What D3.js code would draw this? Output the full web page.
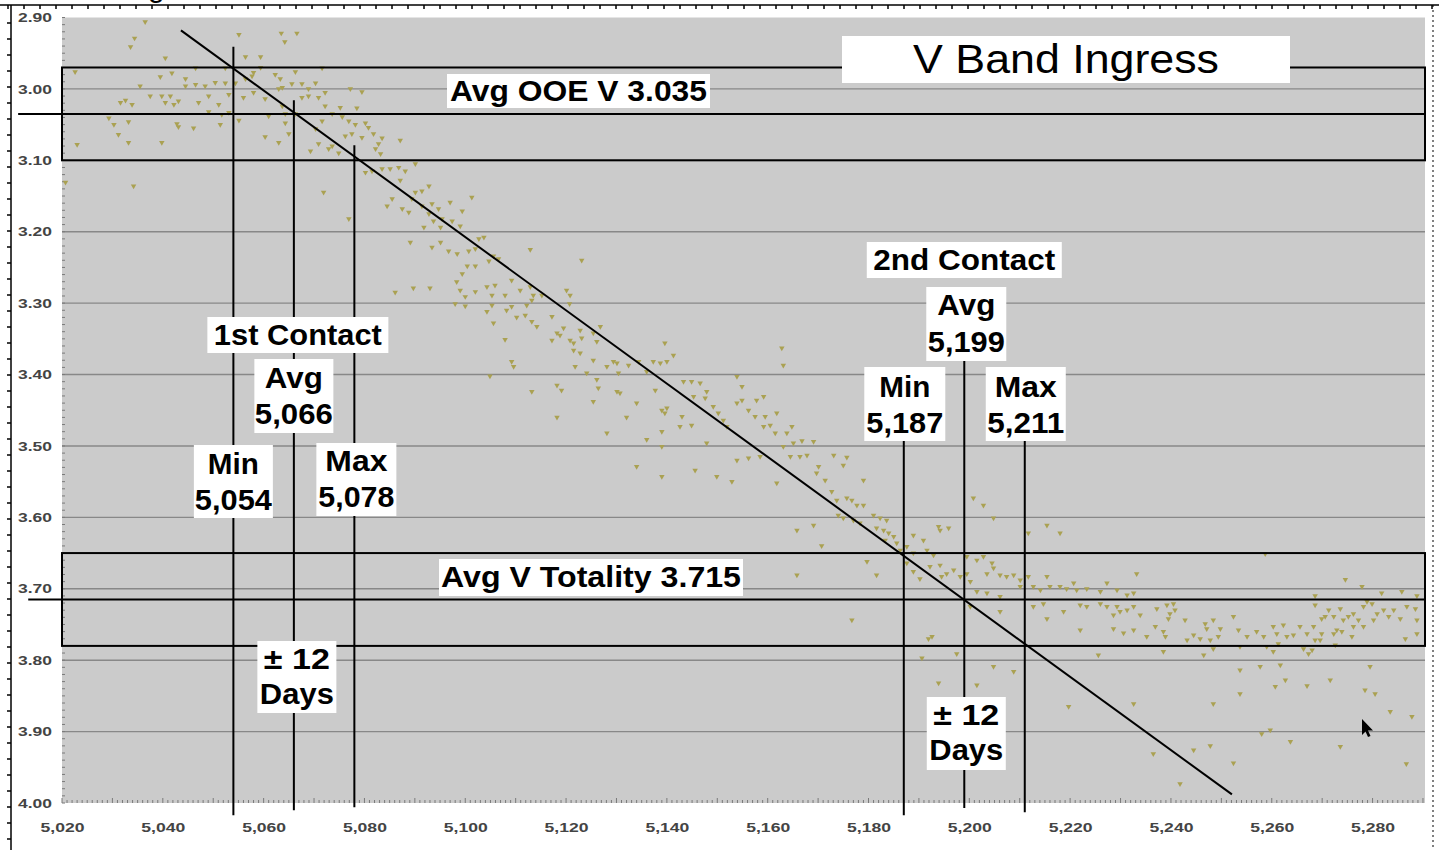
<!DOCTYPE html>
<html>
  <head>
    <meta charset="utf-8">
    <title>V Band Ingress</title>
    <script src="https://cdn.jsdelivr.net/npm/d3@7"></script>
    <style>
      body { margin: 0; background: #fff; }
      svg { display: block; }
      .lbl { font-family: "Liberation Sans", Arial, sans-serif; font-weight: bold; }
    </style>
  </head>
  <body>
    <div id="vis"></div>
    <script>
        const width = 1439;
        const height = 850;

        // axis ticks
        const xTicks = [5020, 5040, 5060, 5080, 5100, 5120, 5140, 5160, 5180, 5200, 5220, 5240, 5260, 5280];
        const yTicks = [2.90, 3.00, 3.10, 3.20, 3.30, 3.40, 3.50, 3.60, 3.70, 3.80, 3.90, 4.00];

        // averages and contact times
        const avgOOE = 3.035;
        const avgTotality = 3.715;
        const bandHalf = 0.065;
        const contact1 = {min: 5054, avg: 5066, max: 5078};
        const contact2 = {min: 5187, avg: 5199, max: 5211};
        const trendLine = [[5043.6, 2.918], [5252.1, 3.988]];

        const obsOutOfEclipse = [
          [5036.5,2.906],[5034.4,2.929],[5033.6,2.941],[5040.5,2.957],[5055.1,2.924],[5063.5,2.922],[5066.6,2.922],[5064.2,2.934],[5056.4,2.955],[5059.4,2.955],
          [5022.6,2.976],[5046.5,2.971],[5052.4,2.971],[5039.5,2.983],[5044.5,2.986],[5041.8,2.978],[5058.0,2.977],[5059.4,2.970],[5066.3,2.976],[5071.6,2.971],
          [5035.5,2.996],[5044.5,2.996],[5046.5,2.994],[5048.4,2.996],[5050.4,2.991],[5052.4,2.992],[5054.4,2.992],[5056.4,2.986],[5057.7,2.982],[5062.3,2.980],
          [5063.3,2.986],[5063.7,2.998],[5065.6,2.993],[5067.6,2.993],[5070.3,2.992],[5063.0,3.000],[5068.9,3.000],[5072.2,3.005],[5077.2,3.000],[5079.5,3.004],
          [5037.5,3.010],[5039.8,3.010],[5041.5,3.010],[5031.6,3.019],[5032.6,3.016],[5033.9,3.022],[5040.5,3.019],[5042.2,3.022],[5043.1,3.017],[5047.1,3.019],
          [5049.1,3.010],[5051.1,3.022],[5053.1,3.008],[5056.0,3.012],[5058.0,3.005],[5060.3,3.014],[5063.7,3.024],[5067.6,3.012],[5068.9,3.010],[5070.9,3.012],
          [5072.2,3.024],[5075.2,3.026],[5078.5,3.027],[5029.3,3.041],[5030.3,3.050],[5033.2,3.046],[5042.8,3.049],[5043.1,3.053],[5046.1,3.055],[5049.1,3.032],
          [5051.4,3.050],[5051.7,3.036],[5053.1,3.033],[5055.1,3.044],[5061.0,3.038],[5064.3,3.035],[5064.3,3.048],[5066.3,3.035],[5071.6,3.045],[5073.6,3.035],
          [5075.6,3.039],[5076.9,3.045],[5078.2,3.050],[5080.2,3.048],[5080.8,3.054],[5077.5,3.063],[5076.2,3.066],[5070.3,3.056],[5031.2,3.064],[5033.2,3.075],
          [5039.8,3.075],[5023.0,3.078],[5060.3,3.067],[5063.0,3.075],[5065.0,3.063],[5069.3,3.087],[5070.9,3.077],[5072.9,3.084],[5074.9,3.090],[5073.6,3.080],
          [5079.5,3.068],[5081.8,3.063],[5082.8,3.077],[5082.2,3.084],[5083.5,3.069],[5087.1,3.072],[5083.2,3.091],[5080.2,3.117],[5081.5,3.115],[5083.5,3.112],
          [5085.1,3.112],[5086.8,3.110],[5088.1,3.115],[5090.1,3.105],[5087.1,3.128],[5092.8,3.136],[5091.4,3.143],[5090.1,3.145],[5089.4,3.154],[5091.4,3.164],
          [5093.4,3.161],[5094.7,3.168],[5097.0,3.159],[5099.4,3.171],[5101.3,3.152],[5092.8,3.175],[5093.7,3.185],[5095.4,3.182],[5097.4,3.185],[5099.0,3.192],
          [5095.1,3.194],[5091.8,3.194],[5088.8,3.173],[5085.5,3.154],[5084.5,3.164],[5087.5,3.168],[5089.1,3.215],[5093.4,3.222],[5095.1,3.215],[5096.7,3.227],
          [5098.4,3.231],[5100.7,3.227],[5102.7,3.210],[5103.7,3.208],[5102.0,3.224],[5100.4,3.248],[5102.0,3.248],[5104.7,3.241],[5105.6,3.234],[5106.6,3.238],
          [5099.4,3.259],[5020.7,3.131],[5034.2,3.136],[5071.9,3.145],[5076.9,3.182]
        ];
        const obsIngressUpper = [
          [5112.9,3.225],[5123.1,3.240],[5109.2,3.268],[5110.9,3.282],[5112.9,3.277],[5113.5,3.289],[5113.2,3.296],[5112.2,3.303],[5115.2,3.289],[5120.1,3.282],
          [5120.8,3.289],[5120.7,3.301],[5107.9,3.289],[5109.2,3.305],[5108.2,3.310],[5110.2,3.320],[5111.9,3.317],[5113.2,3.326],[5114.2,3.333],[5117.2,3.319],
          [5119.5,3.335],[5118.2,3.342],[5118.8,3.345],[5117.2,3.352],[5120.8,3.352],[5121.5,3.356],[5122.8,3.338],[5123.1,3.349],[5125.4,3.342],[5126.1,3.354],
          [5126.8,3.333],[5107.9,3.351],[5109.2,3.382],[5109.6,3.389],[5121.5,3.366],[5122.8,3.370],[5121.8,3.389],[5125.4,3.380],[5124.1,3.398],[5126.1,3.407],
          [5128.1,3.389],[5129.4,3.382],[5130.4,3.398],[5130.1,3.384],[5132.4,3.387],[5134.4,3.382],[5136.0,3.396],[5137.3,3.382],[5138.7,3.384],[5140.0,3.382],
          [5139.6,3.356],[5141.3,3.373],[5104.9,3.402],[5113.2,3.424],[5118.2,3.415],[5119.1,3.422],[5126.4,3.419],[5130.1,3.424],[5130.7,3.426],[5125.4,3.438],
          [5134.0,3.440],[5118.2,3.460],[5128.1,3.482],[5132.0,3.460],[5136.0,3.491],[5139.0,3.480],[5139.0,3.501],[5134.0,3.529],[5139.0,3.543],[5145.6,3.534],
          [5149.9,3.543],[5137.7,3.422],[5139.0,3.450],[5139.6,3.454],[5140.0,3.447],[5143.0,3.459],[5144.9,3.471],[5142.6,3.473],[5143.3,3.410],[5144.9,3.410],
          [5146.6,3.412],[5147.9,3.424],[5145.3,3.431],[5147.6,3.433],[5149.2,3.445],[5150.2,3.454],[5151.2,3.464],[5151.9,3.473],[5153.9,3.440],[5154.9,3.436],
          [5156.2,3.450],[5157.5,3.459],[5157.8,3.436],[5159.2,3.431],[5159.5,3.459],[5160.5,3.471],[5161.8,3.454],[5163.8,3.482],[5164.8,3.473],[5165.1,3.496],
          [5163.1,3.501],[5164.5,3.515],[5161.5,3.482],[5159.2,3.473],[5153.9,3.403],[5154.9,3.417],[5162.8,3.363],[5163.1,3.387],[5147.9,3.496],[5153.9,3.520],
          [5156.2,3.517],[5158.5,3.515],[5086.1,3.285],[5089.7,3.279],[5093.0,3.279],[5098.3,3.270],[5099.0,3.282],[5100.0,3.291],[5102.0,3.284],[5104.3,3.277],
          [5105.3,3.289],[5105.9,3.275],[5098.0,3.301],[5100.0,3.304],[5104.3,3.312],[5105.3,3.303],[5105.6,3.328]
        ];
        const obsIngressLower = [
          [5166.8,3.493],[5169.1,3.494],[5166.4,3.515],[5167.8,3.513],[5169.7,3.538],[5170.1,3.529],[5171.4,3.548],[5173.1,3.513],[5175.7,3.516],[5175.0,3.527],
          [5179.0,3.548],[5152.9,3.550],[5161.8,3.552],[5165.8,3.618],[5169.1,3.611],[5170.7,3.640],[5165.8,3.681],[5176.7,3.744],[5172.7,3.564],[5173.7,3.576],
          [5175.7,3.573],[5176.7,3.576],[5177.7,3.583],[5179.0,3.583],[5174.0,3.597],[5175.0,3.601],[5177.0,3.604],[5178.3,3.608],[5181.0,3.597],[5182.3,3.601],
          [5183.6,3.604],[5181.6,3.615],[5183.0,3.618],[5184.0,3.622],[5183.3,3.632],[5185.0,3.627],[5185.6,3.636],[5186.3,3.646],[5187.6,3.641],[5188.9,3.625],
          [5190.9,3.632],[5191.6,3.646],[5192.9,3.653],[5194.2,3.618],[5195.9,3.615],[5188.9,3.650],[5179.7,3.662],[5181.6,3.681],[5187.6,3.664],[5188.9,3.676],
          [5190.2,3.686],[5192.2,3.669],[5194.2,3.667],[5194.5,3.683],[5195.5,3.679],[5196.9,3.674],[5198.2,3.683],[5199.5,3.679],[5200.2,3.690],[5199.5,3.655],
          [5201.5,3.660],[5202.8,3.655],[5204.5,3.664],[5203.5,3.679],[5204.8,3.671],[5206.1,3.681],[5207.4,3.683],[5208.8,3.681],[5210.1,3.688],[5211.7,3.683],
          [5212.7,3.697],[5214.1,3.702],[5215.4,3.683],[5216.0,3.697],[5218.0,3.697],[5219.3,3.700],[5220.7,3.692],[5221.3,3.702],[5223.3,3.700],[5226.0,3.704],
          [5227.3,3.692],[5229.3,3.702],[5231.3,3.709],[5232.6,3.706],[5233.2,3.679],[5201.5,3.704],[5203.5,3.706],[5206.1,3.711],[5210.1,3.697],[5200.2,3.725],
          [5206.1,3.732],[5212.7,3.725],[5215.4,3.742],[5218.7,3.732],[5222.0,3.723],[5223.3,3.725],[5226.0,3.721],[5227.3,3.725],[5229.3,3.725],[5228.6,3.737],
          [5229.9,3.732],[5231.3,3.730],[5232.6,3.725],[5233.9,3.737],[5228.6,3.756],[5230.6,3.762],[5232.6,3.758],[5222.0,3.758],[5214.7,3.721],[5200.8,3.573],
          [5202.8,3.583],[5204.8,3.601],[5211.7,3.622],[5215.4,3.611],[5218.0,3.622],[5193.9,3.613],[5191.9,3.770],[5192.6,3.767],[5190.6,3.797],[5197.5,3.791],
          [5193.9,3.832],[5201.5,3.835],[5204.8,3.809],[5208.8,3.816],[5225.6,3.793],[5219.7,3.865],[5232.6,3.861]
        ];
        const obsTotality = [
          [5258.7,3.651],[5274.6,3.687],[5277.9,3.697],[5268.6,3.710],[5281.8,3.706],[5285.8,3.704],[5288.8,3.710],[5237.2,3.728],[5239.2,3.723],[5240.5,3.721],
          [5239.8,3.735],[5239.5,3.742],[5240.8,3.730],[5242.8,3.744],[5236.9,3.753],[5238.5,3.760],[5238.9,3.767],[5235.2,3.767],[5238.5,3.788],[5243.2,3.772],
          [5244.5,3.765],[5245.8,3.770],[5246.8,3.749],[5247.1,3.756],[5248.4,3.744],[5249.8,3.756],[5249.4,3.767],[5247.8,3.772],[5246.5,3.793],[5248.4,3.784],
          [5252.4,3.739],[5253.4,3.758],[5255.1,3.767],[5253.7,3.781],[5257.0,3.760],[5258.4,3.767],[5259.0,3.781],[5260.3,3.753],[5261.0,3.763],[5262.3,3.751],
          [5263.0,3.767],[5264.3,3.765],[5265.6,3.753],[5267.0,3.763],[5268.3,3.753],[5268.6,3.772],[5266.3,3.784],[5267.3,3.791],[5268.0,3.786],[5269.6,3.772],
          [5269.9,3.763],[5272.3,3.763],[5272.9,3.758],[5274.2,3.744],[5272.3,3.739],[5271.3,3.730],[5269.9,3.742],[5268.6,3.723],[5270.6,3.739],[5273.6,3.728],
          [5275.2,3.739],[5276.2,3.735],[5277.2,3.744],[5278.2,3.725],[5278.9,3.718],[5279.9,3.721],[5280.9,3.735],[5282.2,3.730],[5283.2,3.739],[5284.2,3.730],
          [5285.5,3.742],[5286.8,3.725],[5288.5,3.728],[5288.8,3.744],[5288.8,3.763],[5286.5,3.770],[5278.2,3.753],[5275.9,3.767],[5272.6,3.779],[5276.2,3.753],
          [5280.2,3.744],[5273.9,3.760],[5260.3,3.788],[5261.3,3.777],[5257.7,3.809],[5261.7,3.807],[5262.7,3.828],[5260.7,3.837],[5267.0,3.836],[5271.6,3.828],
          [5279.5,3.809],[5278.5,3.842],[5280.5,3.847],[5253.7,3.814],[5253.7,3.847],[5248.4,3.861],[5252.4,3.944],[5247.8,3.920],[5244.5,3.926],[5236.5,3.931],
          [5241.8,3.973],[5263.7,3.914],[5273.6,3.921],[5283.5,3.872],[5287.8,3.879],[5286.7,3.945],[5259.7,3.898],[5258.0,3.903]
        ];

        const observations = obsOutOfEclipse.concat(obsIngressUpper, obsIngressLower, obsTotality);

        const x = d3.scaleLinear().domain([5020, 5290.4]).range([62, 1425]);
        const y = d3.scaleLinear().domain([2.90, 4.00]).range([17.5, 803]);

        const vis = d3.select('#vis').append("svg")
          .attr("width", width).attr("height", height)
          .style("background", "#fff");

        // plot area
        vis.append("rect")
          .attr("x", x(5020)).attr("y", y(2.90))
          .attr("width", x(5290.4) - x(5020)).attr("height", y(4.00) - y(2.90))
          .attr("fill", "#cbcbcb");

        // gridlines
        vis.append("g").selectAll("line")
          .data(yTicks.slice(1, -1))
          .enter().append("line")
          .attr("x1", x(5020)).attr("x2", x(5290.4))
          .attr("y1", d => y(d)).attr("y2", d => y(d))
          .attr("stroke", "#888").attr("stroke-width", 1.4);

        // minor ticks left and bottom
        const minorY = d3.range(0, 111).map(i => 2.90 + i * 0.01);
        vis.append("g").selectAll("line")
          .data(minorY).enter().append("line")
          .attr("x1", x(5020)).attr("x2", x(5020) + 3)
          .attr("y1", d => y(d)).attr("y2", d => y(d))
          .attr("stroke", "#7a7a7a").attr("stroke-width", 1);
        const minorX = d3.range(5020, 5291, 1);
        vis.append("g").selectAll("line")
          .data(minorX).enter().append("line")
          .attr("x1", d => x(d)).attr("x2", d => x(d))
          .attr("y1", y(4.00)).attr("y2", d => y(4.00) - (d % 10 === 0 ? 5 : 3))
          .attr("stroke", "#7a7a7a").attr("stroke-width", 1);

        // observations
        const marker = d3.symbol().type(d3.symbolTriangle).size(13);
        vis.append("g").selectAll("path")
          .data(observations).enter().append("path")
          .attr("d", marker)
          .attr("transform", d => "translate(" + x(d[0]) + "," + y(d[1]) + ") rotate(180)")
          .attr("fill", "#aaa152");

        // avg bands
        const bands = [avgOOE, avgTotality];
        vis.append("g").selectAll("rect")
          .data(bands).enter().append("rect")
          .attr("x", x(5020)).attr("width", x(5290.4) - x(5020))
          .attr("y", d => y(d - bandHalf)).attr("height", d => y(d + bandHalf) - y(d - bandHalf))
          .attr("fill", "none").attr("stroke", "#000").attr("stroke-width", 2);

        vis.append("line")
          .attr("x1", x(5011.3)).attr("x2", x(5290.4))
          .attr("y1", y(avgOOE)).attr("y2", y(avgOOE))
          .attr("stroke", "#000").attr("stroke-width", 2);
        vis.append("line")
          .attr("x1", x(5013.3)).attr("x2", x(5290.4))
          .attr("y1", y(avgTotality)).attr("y2", y(avgTotality))
          .attr("stroke", "#000").attr("stroke-width", 2);

        // trend line
        vis.append("line")
          .attr("x1", x(trendLine[0][0])).attr("y1", y(trendLine[0][1]))
          .attr("x2", x(trendLine[1][0])).attr("y2", y(trendLine[1][1]))
          .attr("stroke", "#000").attr("stroke-width", 2);

        // contact verticals [day, top mag, bottom mag]
        const verticals = [
          [contact1.min, 2.941, 4.017], [contact1.avg, 3.016, 4.010], [contact1.max, 3.079, 4.006],
          [contact2.min, 3.490, 4.017], [contact2.avg, 3.340, 4.007], [contact2.max, 3.490, 4.013]
        ];
        vis.append("g").selectAll("line")
          .data(verticals).enter().append("line")
          .attr("x1", d => x(d[0])).attr("x2", d => x(d[0]))
          .attr("y1", d => y(d[1])).attr("y2", d => y(d[2]))
          .attr("stroke", "#000").attr("stroke-width", 2);

        // white labels
        const fmt = d3.format(",");
        const labels = [
          {cx: x(contact1.avg) + 4, top: 317, w: 181, h: 36, lines: [["1st Contact", 345, 168]]},
          {cx: x(contact1.avg), top: 359, w: 79, h: 74, lines: [["Avg", 388, 58], [fmt(contact1.avg), 424, 78]]},
          {cx: x(contact1.min), top: 445, w: 79, h: 73, lines: [["Min", 474, 51], [fmt(contact1.min), 510, 77]]},
          {cx: x(contact1.max) + 2, top: 443, w: 80, h: 73, lines: [["Max", 471, 62], [fmt(contact1.max), 507, 76]]},
          {cx: x(contact1.avg) + 3, top: 641, w: 79, h: 72, lines: [["± 12", 669, 66], ["Days", 704, 74]]},
          {cx: x(contact2.avg), top: 242, w: 195, h: 36, lines: [["2nd Contact", 270, 182]]},
          {cx: x(contact2.avg) + 2, top: 287, w: 80, h: 74, lines: [["Avg", 315, 58], [fmt(contact2.avg), 352, 77]]},
          {cx: x(contact2.min) + 1, top: 367, w: 81, h: 74, lines: [["Min", 397, 51], [fmt(contact2.min), 433, 77]]},
          {cx: x(contact2.max) + 1, top: 367, w: 80, h: 74, lines: [["Max", 397, 62], [fmt(contact2.max), 433, 77]]},
          {cx: x(contact2.avg) + 2, top: 697, w: 79, h: 73, lines: [["± 12", 725, 66], ["Days", 760, 74]]},
          {cx: 578.5, top: 74, w: 263, h: 34, lines: [["Avg OOE V " + avgOOE.toFixed(3), 101, 257]]},
          {cx: 591, top: 559, w: 304, h: 37, lines: [["Avg V Totality " + avgTotality.toFixed(3), 587, 300]]}
        ];

        const lab = vis.append("g").selectAll("g")
          .data(labels).enter().append("g");
        lab.append("rect")
          .attr("x", d => d.cx - d.w / 2).attr("y", d => d.top)
          .attr("width", d => d.w).attr("height", d => d.h)
          .attr("fill", "#fff");
        lab.selectAll("text")
          .data(d => d.lines.map(l => ({cx: d.cx, t: l[0], y: l[1], w: l[2]})))
          .enter().append("text")
          .attr("class", "lbl")
          .attr("x", d => d.cx).attr("y", d => d.y)
          .attr("text-anchor", "middle")
          .attr("font-size", 29)
          .attr("textLength", d => d.w).attr("lengthAdjust", "spacingAndGlyphs")
          .attr("fill", "#000")
          .text(d => d.t);

        // title
        vis.append("rect")
          .attr("x", 842).attr("y", 36).attr("width", 448).attr("height", 47)
          .attr("fill", "#fff");
        vis.append("text")
          .attr("x", 1066).attr("y", 73)
          .attr("text-anchor", "middle")
          .attr("font-family", "'Liberation Sans', Arial, sans-serif")
          .attr("font-size", 41)
          .attr("textLength", 306).attr("lengthAdjust", "spacingAndGlyphs")
          .text("V Band Ingress");

        // axes
        const yAxis = vis.append("g")
          .attr("transform", "translate(" + x(5020) + ",0)")
          .call(d3.axisLeft(y).tickValues(yTicks).tickFormat(d3.format(".2f")).tickSize(0).tickPadding(10));
        const xAxis = vis.append("g")
          .attr("transform", "translate(0," + y(4.00) + ")")
          .call(d3.axisBottom(x).tickValues(xTicks).tickFormat(fmt).tickSize(0).tickPadding(20));
        [yAxis, xAxis].forEach(a => {
          a.select(".domain").remove();
          a.selectAll("text")
            .attr("font-family", "'Liberation Sans', Arial, sans-serif")
            .attr("font-weight", "bold")
            .attr("font-size", 13)
            .attr("fill", "#444");
        });
        yAxis.selectAll("text").attr("textLength", 34).attr("lengthAdjust", "spacingAndGlyphs");
        xAxis.selectAll("text").attr("textLength", 44).attr("lengthAdjust", "spacingAndGlyphs");

        // worksheet frame
        vis.append("line").attr("x1", 0).attr("x2", width).attr("y1", 5).attr("y2", 5)
          .attr("stroke", "#000").attr("stroke-width", 1.5);
        vis.append("g").selectAll("line")
          .data(d3.range(8, width, 16)).enter().append("line")
          .attr("x1", d => d).attr("x2", d => d).attr("y1", 5).attr("y2", 9)
          .attr("stroke", "#000").attr("stroke-width", 1.5);
        vis.append("line").attr("x1", 11).attr("x2", 11).attr("y1", 5).attr("y2", height)
          .attr("stroke", "#000").attr("stroke-width", 1.5);
        vis.append("g").selectAll("line")
          .data(d3.range(23, height, 16)).enter().append("line")
          .attr("x1", 7).attr("x2", 11).attr("y1", d => d).attr("y2", d => d)
          .attr("stroke", "#000").attr("stroke-width", 1.5);
        vis.append("line").attr("x1", 1433).attr("x2", 1433).attr("y1", 5).attr("y2", height)
          .attr("stroke", "#000").attr("stroke-width", 1).attr("stroke-dasharray", "2,3");

        // cut-off heading above the sheet, only its descender shows
        vis.append("text")
          .attr("x", 148).attr("y", -3)
          .attr("font-family", "'Liberation Sans', Arial, sans-serif")
          .attr("font-size", 30)
          .text("g");

        // mouse pointer
        vis.append("path")
          .attr("d", "M1362,719 L1362,735 L1365.5,731.5 L1368,737 L1370.5,736 L1368,730.5 L1373,730.5 Z")
          .attr("fill", "#000");
    </script>
  </body>
</html>
